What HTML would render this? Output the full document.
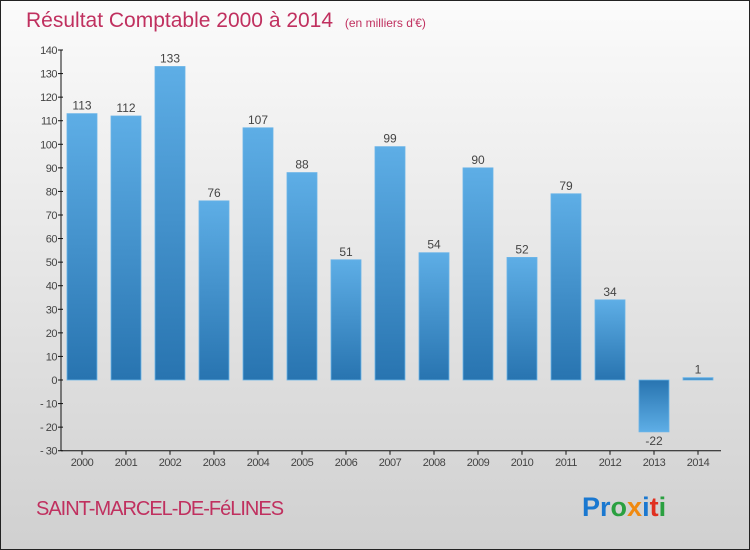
<!DOCTYPE html>
<html><head><meta charset="utf-8"><style>
body{margin:0;width:750px;height:550px;overflow:hidden}
svg{display:block;font-family:"Liberation Sans",sans-serif}
</style></head><body>
<svg id="chart" width="750" height="550">
<defs>
<linearGradient id="bg" x1="0" y1="0" x2="0" y2="1"><stop offset="0" stop-color="#fbfbfb"/><stop offset="1" stop-color="#d0d0d0"/></linearGradient>
<linearGradient id="gp" x1="0" y1="0" x2="0" y2="1"><stop offset="0" stop-color="#5eaee6"/><stop offset="1" stop-color="#2874b0"/></linearGradient>
<linearGradient id="gn" x1="0" y1="0" x2="0" y2="1"><stop offset="0" stop-color="#2874b0"/><stop offset="1" stop-color="#5eaee6"/></linearGradient>
</defs>
<rect x="0.5" y="0.5" width="749" height="549" fill="url(#bg)" stroke="#222"/>
<text x="26" y="27" font-size="21" fill="#c0305f">Résultat Comptable 2000 à 2014 <tspan font-size="12" dx="6">(en milliers d'€)</tspan></text>
<g id="axes"></g><g id="bars"></g>
<text x="36" y="515" font-size="20" fill="#c0305f" letter-spacing="-1">SAINT-MARCEL-DE-FéLINES</text>
<text x="582" y="516" font-size="27" font-weight="bold"><tspan fill="#1a78d0">Pr</tspan><tspan fill="#2aa040">o</tspan><tspan fill="#f08a10">x</tspan><tspan fill="#1a78d0">i</tspan><tspan fill="#e03020">t</tspan><tspan fill="#2aa040">i</tspan></text>
</svg>
<script>
const categories=["2000","2001","2002","2003","2004","2005","2006","2007","2008","2009","2010","2011","2012","2013","2014"];
const values=[113,112,133,76,107,88,51,99,54,90,52,79,34,-22,1];
const yTicks=[140,130,120,110,100,90,80,70,60,50,40,30,20,10,0,-10,-20,-30];
const NS="http://www.w3.org/2000/svg";
const y0=380,ppu=330/140;
function yS(v){return y0-v*ppu;}
function xS(i){return 82+i*44;}
function mk(t,a,p,txt){const e=document.createElementNS(NS,t);for(const k in a)e.setAttribute(k,a[k]);if(txt!==undefined)e.textContent=txt;p.appendChild(e);return e;}
const ax=document.getElementById('axes'),bs=document.getElementById('bars');
const yl=mk('line',{x1:61,y1:yS(140),x2:61,y2:yS(-30),stroke:'#111'},ax);


const xl=mk('line',{x1:61,y1:yS(-30),x2:721,y2:yS(-30),stroke:'#111'},ax);


yTicks.forEach(v=>{
 mk('line',{x1:58,y1:yS(v),x2:63,y2:yS(v),stroke:'#111'},ax);
 const t=mk('text',{x:57,y:yS(v)+4,'font-size':11,fill:'#444','text-anchor':'end','letter-spacing':'-0.5'},ax,v<0?'- '+(-v):String(v));
 
 
});
categories.forEach((c,i)=>{
 const x=xS(i),v=values[i];
 mk('line',{x1:x,y1:yS(-30),x2:x,y2:yS(-30)+4,stroke:'#111'},ax);
 const t=mk('text',{x:x,y:466,'font-size':11,fill:'#444','text-anchor':'middle','letter-spacing':'-0.5'},ax,c);
 
 
 const top=Math.min(yS(v),y0),h=Math.max(Math.abs(yS(v)-y0),2);
 const r=mk('rect',{x:x-15,y:top,width:30,height:h,fill:v>=0?'url(#gp)':'url(#gn)',stroke:'#6ab4e8','stroke-width':0.8},bs);
 
 
 const l=mk('text',{x:x,y:v>=0?top-4:top+h+13,'font-size':12,fill:'#444','text-anchor':'middle'},bs,String(v));
 
 
});
</script>
</body></html>
